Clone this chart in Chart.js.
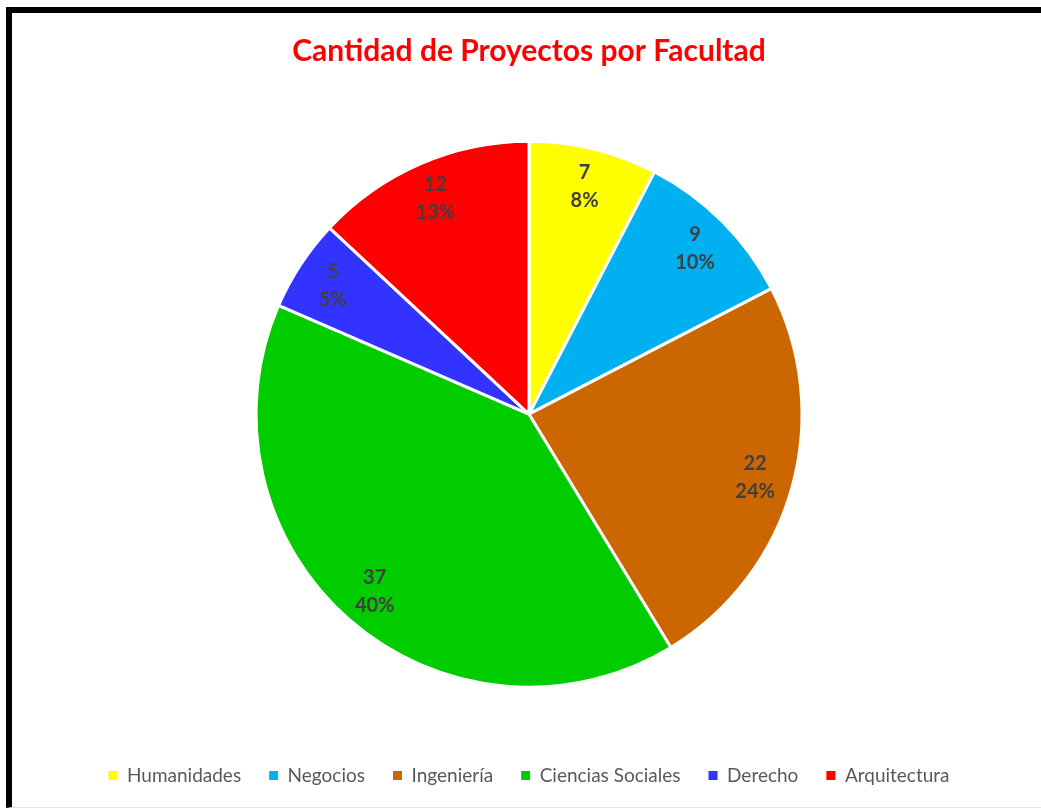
<!DOCTYPE html>
<html>
<head>
<meta charset="utf-8">
<script src="https://cdn.jsdelivr.net/npm/chart.js@4"></script>
<style>
  html, body { margin: 0; padding: 0; background: #fff; overflow: hidden; width: 1041px; height: 809px; }
  #frame { position: absolute; left: 6px; top: 7px; width: 1100px; height: 801px; border-left: 6px solid #000; border-top: 6px solid #000; border-bottom: 1px solid #e6e6e6; box-sizing: border-box; }
  #wrap { position: absolute; left: 12px; top: 13px; width: 1034px; height: 795px; }
</style>
</head>
<body>
<div id="frame"></div>
<div id="wrap"><canvas id="pieChart"></canvas></div>
<script>
// chart data
const facultades = ['Humanidades', 'Negocios', 'Ingeniería', 'Ciencias Sociales', 'Derecho', 'Arquitectura'];
const proyectos = [7, 9, 22, 37, 5, 12];
const colores = ['#FFFF00', '#00B0F0', '#CC6600', '#00CC00', '#3333FF', '#FF0000'];

// draws "value / percent" labels inside each slice
const sliceLabels = {
    id: 'sliceLabels',
    afterDatasetsDraw(chart) {
        const ctx = chart.ctx;
        const meta = chart.getDatasetMeta(0);
        const data = chart.data.datasets[0].data;
        const total = data.reduce((a, b) => a + b, 0);
        ctx.save();
        ctx.font = 'bold 20px Lato';
        ctx.fillStyle = '#404040';
        ctx.textAlign = 'center';
        ctx.textBaseline = 'middle';
        meta.data.forEach((arc, i) => {
            const mid = (arc.startAngle + arc.endAngle) / 2;
            const r = arc.outerRadius * 0.86;
            const x = arc.x + Math.cos(mid) * r;
            const y = arc.y + Math.sin(mid) * r;
            ctx.fillText(String(data[i]), x, y - 14);
            ctx.fillText(Math.round(data[i] / total * 100) + '%', x, y + 14);
        });
        ctx.restore();
    }
};

const ctx = document.getElementById('pieChart').getContext('2d');
const pieChart = new Chart(ctx, {
    type: 'pie',
    data: {
        labels: facultades,
        datasets: [{
            data: proyectos,
            backgroundColor: colores,
            borderColor: '#ffffff',
            borderWidth: 3,
            hoverOffset: 0,
            radius: 273
        }]
    },
    options: {
        responsive: true,
        maintainAspectRatio: false,
        animation: false,
        layout: { padding: { bottom: 13 } },
        plugins: {
            title: {
                display: true,
                text: 'Cantidad de Proyectos por Facultad',
                color: '#FF0000',
                font: { family: 'Lato', size: 30, weight: 'bold' },
                padding: { top: 20, bottom: 21.4 }
            },
            legend: {
                position: 'bottom',
                labels: {
                    color: '#595959',
                    font: { family: 'Lato', size: 19 },
                    boxWidth: 9,
                    boxHeight: 9,
                    padding: 28,
                    generateLabels: function (chart) {
                        const items = Chart.controllers.pie.overrides.plugins.legend.labels.generateLabels(chart);
                        items.forEach(it => { it.lineWidth = 0; it.strokeStyle = it.fillStyle; });
                        return items;
                    }
                }
            },
            tooltip: { enabled: false }
        }
    },
    plugins: [sliceLabels]
});
</script>
</body>
</html>
